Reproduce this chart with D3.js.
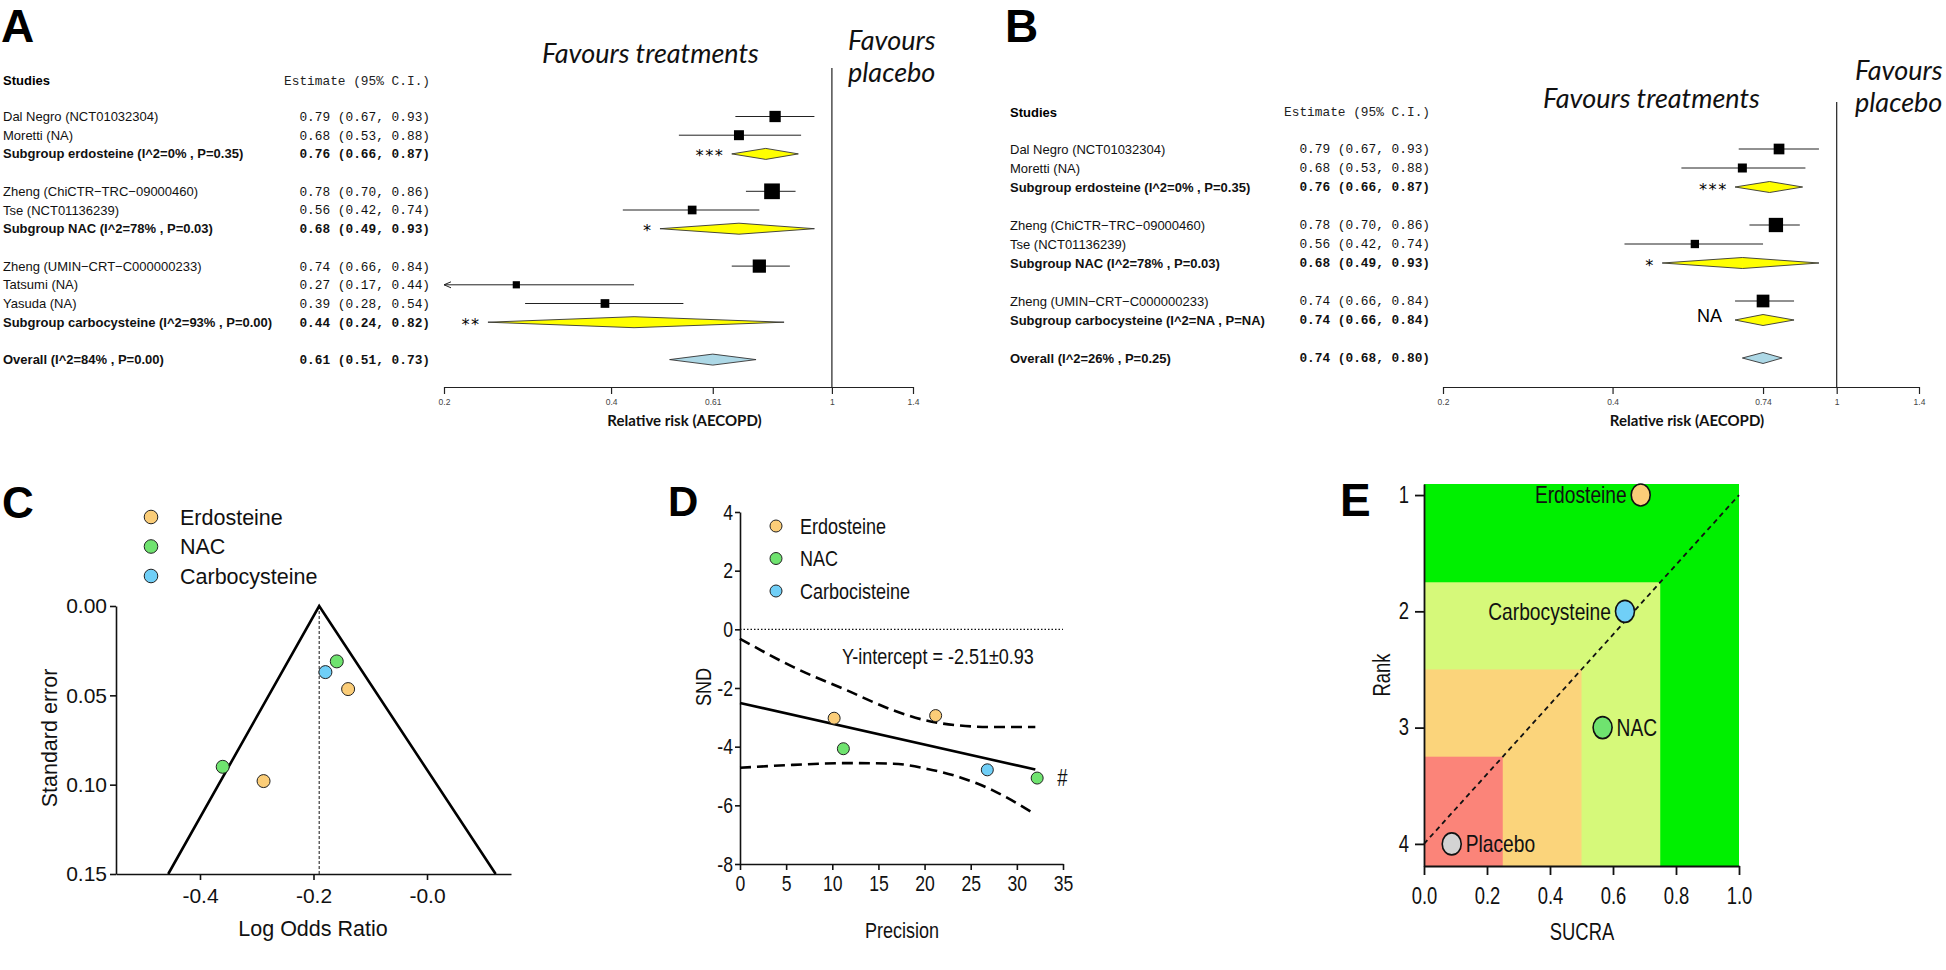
<!DOCTYPE html>
<html>
<head>
<meta charset="utf-8">
<script src="https://cdn.jsdelivr.net/npm/d3@7"></script>
<style>
  body { margin: 0; background: #fff; }
  svg { display: block; }
</style>
</head>
<body>
<div id="chart"></div>
<script>
const width = 1946;
const height = 970;

// ---------- panel A : forest plot, all studies ----------
const aLabels = [
  "Dal Negro (NCT01032304)", "Moretti (NA)", "Subgroup erdosteine (I^2=0% , P=0.35)",
  "Zheng (ChiCTR\u2212TRC\u221209000460)", "Tse (NCT01136239)", "Subgroup NAC (I^2=78% , P=0.03)",
  "Zheng (UMIN\u2212CRT\u2212C000000233)", "Tatsumi (NA)", "Yasuda (NA)",
  "Subgroup carbocysteine (I^2=93% , P=0.00)", "Overall (I^2=84% , P=0.00)"
];
const aRows = [0, 1, 2, 4, 5, 6, 8, 9, 10, 11, 13];
const aKinds = ["study", "study", "subgroup", "study", "study", "subgroup", "study", "study", "study", "subgroup", "overall"];
const aEst = [0.79, 0.68, 0.76, 0.78, 0.56, 0.68, 0.74, 0.27, 0.39, 0.44, 0.61];
const aLow = [0.67, 0.53, 0.66, 0.70, 0.42, 0.49, 0.66, 0.17, 0.28, 0.24, 0.51];
const aHigh = [0.93, 0.88, 0.87, 0.86, 0.74, 0.93, 0.84, 0.44, 0.54, 0.82, 0.73];
const aWeights = [16, 12.5, null, 31, 9.5, null, 22, 6.5, 9.5, null, null];
const aMarks = [null, null, "***", null, null, "*", null, null, null, "**", null];
const aTicks = [0.2, 0.4, 0.61, 1, 1.4];

// ---------- panel B : forest plot, sensitivity ----------
const bLabels = [
  "Dal Negro (NCT01032304)", "Moretti (NA)", "Subgroup erdosteine (I^2=0% , P=0.35)",
  "Zheng (ChiCTR\u2212TRC\u221209000460)", "Tse (NCT01136239)", "Subgroup NAC (I^2=78% , P=0.03)",
  "Zheng (UMIN\u2212CRT\u2212C000000233)", "Subgroup carbocysteine (I^2=NA , P=NA)",
  "Overall (I^2=26% , P=0.25)"
];
const bRows = [0, 1, 2, 4, 5, 6, 8, 9, 11];
const bKinds = ["study", "study", "subgroup", "study", "study", "subgroup", "study", "subgroup", "overall"];
const bEst = [0.79, 0.68, 0.76, 0.78, 0.56, 0.68, 0.74, 0.74, 0.74];
const bLow = [0.67, 0.53, 0.66, 0.70, 0.42, 0.49, 0.66, 0.66, 0.68];
const bHigh = [0.93, 0.88, 0.87, 0.86, 0.74, 0.93, 0.84, 0.84, 0.80];
const bWeights = [14.4, 10.2, null, 25.7, 8.7, null, 20.3, null, null];
const bMarks = [null, null, "***", null, null, "*", null, "NA", null];
const bTicks = [0.2, 0.4, 0.74, 1, 1.4];

// ---------- panel C : funnel plot ----------
const cDrugs = ["NAC", "Carbocysteine", "Erdosteine", "NAC", "Erdosteine"];
const cLogOR = [-0.159, -0.179, -0.139, -0.36, -0.288];
const cSE = [0.031, 0.037, 0.0465, 0.090, 0.098];
const cFunnelX = [-0.456, -0.19, 0.121];
const cFunnelY = [0.15, 0, 0.15];
const cPooled = -0.19;
const cLegend = ["Erdosteine", "NAC", "Carbocysteine"];
const cTicksX = [-0.4, -0.2, 0];
const cTickLabelsX = ["-0.4", "-0.2", "-0.0"];
const cTicksY = [0, 0.05, 0.10, 0.15];

// ---------- panel D : Egger plot ----------
const dDrugs = ["Erdosteine", "Erdosteine", "NAC", "Carbocisteine", "NAC"];
const dPrecision = [10.2, 21.2, 11.2, 26.8, 32.2];
const dSND = [-3.03, -2.94, -4.07, -4.79, -5.07];
const dFitX = [0, 32];
const dFitY = [-2.51, -4.78];
const dUpperX = [0, 5.8, 11.6, 16.6, 20.2, 23.8, 27.4, 32];
const dUpperY = [-0.32, -1.29, -2.08, -2.76, -3.11, -3.28, -3.33, -3.33];
const dLowerX = [0, 5.8, 11.6, 16.6, 20.2, 23.8, 27.4, 31.6];
const dLowerY = [-4.72, -4.62, -4.56, -4.58, -4.75, -5.04, -5.49, -6.23];
const dLegend = ["Erdosteine", "NAC", "Carbocisteine"];
const dTicksX = [0, 5, 10, 15, 20, 25, 30, 35];
const dTicksY = [-8, -6, -4, -2, 0, 2, 4];

// ---------- panel E : SUCRA ranking ----------
const eNames = ["Erdosteine", "Carbocysteine", "NAC", "Placebo"];
const eSucra = [0.688, 0.638, 0.567, 0.088];
const eRank = [1, 2, 3, 4];
const eLabelSide = ["left", "left", "right", "right"];
const eZoneSucra = [1, 0.75, 0.5, 0.25];
const eZoneRank = [0.905, 1.75, 2.5, 3.25];
const eZoneColors = ["#00f000", "#d6f97a", "#fbd47b", "#fb8479"];
const eTicksX = [0, 0.2, 0.4, 0.6, 0.8, 1.0];
const eTicksY = [1, 2, 3, 4];

const drugColor = {
  Erdosteine: "#fbcd78", NAC: "#6fe36f", Carbocysteine: "#70cff7",
  Carbocisteine: "#70cff7", Placebo: "#d3d3d3"
};

const sans = "'Liberation Sans', Arial, Helvetica, sans-serif";
const mono = "'Liberation Mono', 'Courier New', monospace";
const ital = "Lato, 'Open Sans', sans-serif";

const svg = d3.select("#chart")
  .append("svg")
  .attr("width", width)
  .attr("height", height)
  .style("font-family", sans);

// the GraphPad panels use a narrow face; squeeze the regular one
function condense(sel, f = 0.8) {
  sel.each(function () {
    const len = this.getComputedTextLength();
    d3.select(this).attr("textLength", len * f).attr("lengthAdjust", "spacingAndGlyphs");
  });
}

//---------------- forest plots ----------------
function drawForest(o) {
  const g = svg.append("g");
  const x = d3.scaleLog().domain([0.2, 1.4]).range(o.xRange);
  const rowY = d3.scaleLinear().domain([0, 1]).range([o.firstRow, o.firstRow + o.rowStep]);
  const size = d3.scaleSqrt().domain([0, 31]).range([0, 15.7]);
  const fmt = d3.format(".2f");
  const axisY = 387;

  const rows = o.labels.map((label, i) => ({
    label, row: o.rows[i], kind: o.kinds[i], est: o.est[i],
    lo: o.low[i], hi: o.high[i], w: o.weights[i], mark: o.marks[i]
  }));

  g.append("text")
    .attr("x", o.labelX).attr("y", rowY(-1.95)).attr("dy", "0.35em")
    .attr("font-size", 13).attr("font-weight", "bold")
    .text("Studies");
  g.append("text")
    .attr("x", o.estX).attr("y", rowY(-1.95)).attr("dy", "0.35em")
    .attr("text-anchor", "end").attr("font-family", mono).attr("font-size", 12.8)
    .attr("fill", "#222")
    .text("Estimate (95% C.I.)");

  g.selectAll(".lab").data(rows).enter().append("text")
    .attr("x", o.labelX).attr("y", (d) => rowY(d.row)).attr("dy", "0.35em")
    .attr("font-size", 13)
    .attr("font-weight", (d) => (d.kind === "study" ? "normal" : "bold"))
    .attr("fill", "#111")
    .text((d) => d.label);

  g.selectAll(".est").data(rows).enter().append("text")
    .attr("x", o.estX).attr("y", (d) => rowY(d.row)).attr("dy", "0.35em")
    .attr("text-anchor", "end").attr("font-family", mono).attr("font-size", 12.8)
    .attr("font-weight", (d) => (d.kind === "study" ? "normal" : "bold"))
    .attr("fill", "#111")
    .text((d) => `${fmt(d.est)} (${fmt(d.lo)}, ${fmt(d.hi)})`);

  // reference line at RR = 1
  g.append("line")
    .attr("x1", x(1)).attr("x2", x(1))
    .attr("y1", o.refTop).attr("y2", axisY)
    .attr("stroke", "#222").attr("stroke-width", 1.2);

  const studies = rows.filter((d) => d.kind === "study");
  studies.forEach((d) => {
    const y = rowY(d.row);
    const clipped = d.lo < x.domain()[0];
    const x0 = clipped ? x(x.domain()[0]) : x(d.lo);
    g.append("line")
      .attr("x1", x0).attr("x2", x(d.hi)).attr("y1", y).attr("y2", y)
      .attr("stroke", "#222").attr("stroke-width", 1);
    if (clipped) {
      g.append("path")
        .attr("d", `M${x0 + 7},${y - 3}L${x0},${y}L${x0 + 7},${y + 3}`)
        .attr("fill", "none").attr("stroke", "#222").attr("stroke-width", 1);
    }
    const s = size(d.w);
    g.append("rect")
      .attr("x", x(d.est) - s / 2).attr("y", y - s / 2)
      .attr("width", s).attr("height", s).attr("fill", "#000");
  });

  const pooled = rows.filter((d) => d.kind !== "study");
  g.selectAll(".dia").data(pooled).enter().append("path")
    .attr("d", (d) => {
      const y = rowY(d.row);
      return `M${x(d.lo)},${y}L${x(d.est)},${y - 5.5}L${x(d.hi)},${y}L${x(d.est)},${y + 5.5}Z`;
    })
    .attr("fill", (d) => (d.kind === "overall" ? "#add8e6" : "#ffff00"))
    .attr("stroke", "#333").attr("stroke-width", 0.9);

  // significance marks next to the subgroup diamonds
  rows.filter((d) => d.mark).forEach((d) => {
    const y = rowY(d.row);
    if (d.mark === "NA") {
      g.append("text")
        .attr("x", x(d.lo) - 13).attr("y", y + 1.5)
        .attr("text-anchor", "end").attr("font-size", 18)
        .text(d.mark);
    } else {
      g.append("text")
        .attr("x", x(d.lo) - 8).attr("y", y + 7.5)
        .attr("text-anchor", "end").attr("font-family", "'DejaVu Sans Mono', monospace")
        .attr("font-size", 16)
        .text(d.mark);
    }
  });

  const axis = g.append("g")
    .attr("transform", `translate(0,${axisY})`)
    .call(d3.axisBottom(x).tickValues(o.ticks).tickFormat((d) => String(d))
      .tickSize(7).tickSizeOuter(0).tickPadding(5));
  axis.select(".domain").attr("stroke", "#222").attr("stroke-width", 1.2);
  axis.selectAll(".tick line").attr("stroke", "#222").attr("stroke-width", 1.2);
  axis.selectAll("text").attr("font-size", 8.5).attr("fill", "#444").attr("font-family", sans);

  g.append("text")
    .attr("x", (o.xRange[0] + o.xRange[1]) / 2 + 6).attr("y", 426)
    .attr("text-anchor", "middle").attr("font-family", ital)
    .attr("font-weight", "bold").attr("font-size", 15).attr("fill", "#111")
    .text("Relative risk (AECOPD)");

  g.append("text")
    .attr("x", o.favT[0]).attr("y", o.favT[1])
    .attr("font-family", ital).attr("font-style", "italic").attr("font-size", 27)
    .attr("fill", "#111")
    .text("Favours treatments");
  g.append("text")
    .attr("x", o.favP[0]).attr("y", o.favP[1])
    .attr("font-family", ital).attr("font-style", "italic").attr("font-size", 27)
    .attr("fill", "#111")
    .text("Favours");
  g.append("text")
    .attr("x", o.favP[0]).attr("y", o.favP[1] + 32)
    .attr("font-family", ital).attr("font-style", "italic").attr("font-size", 27)
    .attr("fill", "#111")
    .text("placebo");

  svg.append("text")
    .attr("x", o.letterX).attr("y", 42)
    .attr("font-weight", "bold").attr("font-size", 46)
    .text(o.letter);
}

drawForest({
  letter: "A", letterX: 1,
  labels: aLabels, rows: aRows, kinds: aKinds, est: aEst, low: aLow, high: aHigh,
  weights: aWeights, marks: aMarks, ticks: aTicks,
  xRange: [444, 913], firstRow: 116.5, rowStep: 18.7,
  labelX: 3, estX: 430, refTop: 68,
  favT: [542, 63], favP: [848, 50]
});

drawForest({
  letter: "B", letterX: 1005,
  labels: bLabels, rows: bRows, kinds: bKinds, est: bEst, low: bLow, high: bHigh,
  weights: bWeights, marks: bMarks, ticks: bTicks,
  xRange: [1443, 1919], firstRow: 149, rowStep: 19,
  labelX: 1010, estX: 1430, refTop: 102,
  favT: [1543, 108], favP: [1855, 80]
});

//---------------- panel C : funnel ----------------
{
  const g = svg.append("g");
  const x = d3.scaleLinear().domain([-0.548, 0.148]).range([116, 511]);
  const y = d3.scaleLinear().domain([0, 0.15]).range([606, 874]);

  const xAxis = g.append("g").attr("transform", `translate(0,${y(0.15)})`)
    .call(d3.axisBottom(x).tickValues(cTicksX).tickFormat((d, i) => cTickLabelsX[i])
      .tickSize(6).tickSizeOuter(0).tickPadding(8));
  const yAxis = g.append("g").attr("transform", `translate(${x.range()[0]},0)`)
    .call(d3.axisLeft(y).tickValues(cTicksY).tickFormat(d3.format(".2f"))
      .tickSize(6).tickSizeOuter(0).tickPadding(3));
  [xAxis, yAxis].forEach((a) => {
    a.selectAll("path, line").attr("stroke", "#111").attr("stroke-width", 1.6);
    a.selectAll("text").attr("font-size", 21).attr("font-family", sans).attr("fill", "#111");
  });

  g.append("line")
    .attr("x1", x(cPooled)).attr("x2", x(cPooled))
    .attr("y1", y(0)).attr("y2", y(0.15))
    .attr("stroke", "#111").attr("stroke-width", 1).attr("stroke-dasharray", "3,2");

  const funnel = cFunnelX.map((v, i) => [x(v), y(cFunnelY[i])]);
  g.append("path")
    .attr("d", d3.line()(funnel))
    .attr("fill", "none").attr("stroke", "#000").attr("stroke-width", 2.6)
    .attr("stroke-linejoin", "miter");

  g.selectAll(".pt").data(cDrugs).enter().append("circle")
    .attr("cx", (d, i) => x(cLogOR[i])).attr("cy", (d, i) => y(cSE[i]))
    .attr("r", 6.5).attr("fill", (d) => drugColor[d])
    .attr("stroke", "#222").attr("stroke-width", 1);

  const leg = g.selectAll(".leg").data(cLegend).enter().append("g")
    .attr("transform", (d, i) => `translate(151,${517 + i * 29.5})`);
  leg.append("circle").attr("r", 6.8)
    .attr("fill", (d) => drugColor[d]).attr("stroke", "#222").attr("stroke-width", 1);
  leg.append("text").attr("x", 29).attr("dy", "0.35em")
    .attr("font-size", 21.5).attr("fill", "#111").text((d) => d);

  g.append("text").attr("x", 313).attr("y", 936).attr("text-anchor", "middle")
    .attr("font-size", 21.5).attr("fill", "#111").text("Log Odds Ratio");
  g.append("text").attr("transform", "translate(57,738) rotate(-90)")
    .attr("text-anchor", "middle").attr("font-size", 21.5).attr("fill", "#111")
    .text("Standard error");

  svg.append("text").attr("x", 2).attr("y", 518)
    .attr("font-weight", "bold").attr("font-size", 44).text("C");
}

//---------------- panel D : Egger regression ----------------
{
  const g = svg.append("g");
  const x = d3.scaleLinear().domain([0, 35]).range([740, 1063]);
  const y = d3.scaleLinear().domain([-8, 4]).range([864, 512]);

  const xAxis = g.append("g").attr("transform", `translate(0,${y(-8)})`)
    .call(d3.axisBottom(x).tickValues(dTicksX).tickFormat((d) => String(d))
      .tickSize(6).tickSizeOuter(0).tickPadding(5));
  const yAxis = g.append("g").attr("transform", `translate(${x(0)},0)`)
    .call(d3.axisLeft(y).tickValues(dTicksY).tickFormat((d) => String(d))
      .tickSize(5).tickSizeOuter(0).tickPadding(2));
  [xAxis, yAxis].forEach((a) => {
    a.selectAll("path, line").attr("stroke", "#111").attr("stroke-width", 1.6);
    a.selectAll("text").attr("font-size", 22).attr("fill", "#111").call(condense);
  });

  g.append("line")
    .attr("x1", x(0)).attr("x2", x(35)).attr("y1", y(0)).attr("y2", y(0))
    .attr("stroke", "#111").attr("stroke-width", 1.4).attr("stroke-dasharray", "1.5,2");

  const curve = d3.line().x((d) => x(d[0])).y((d) => y(d[1])).curve(d3.curveMonotoneX);
  [[dUpperX, dUpperY], [dLowerX, dLowerY]].forEach(([xs, ys]) => {
    g.append("path")
      .attr("d", curve(xs.map((v, i) => [v, ys[i]])))
      .attr("fill", "none").attr("stroke", "#000").attr("stroke-width", 2.6)
      .attr("stroke-dasharray", "11,6");
  });
  g.append("path")
    .attr("d", curve(dFitX.map((v, i) => [v, dFitY[i]])))
    .attr("fill", "none").attr("stroke", "#000").attr("stroke-width", 2.6);

  g.selectAll(".pt").data(dDrugs).enter().append("circle")
    .attr("cx", (d, i) => x(dPrecision[i])).attr("cy", (d, i) => y(dSND[i]))
    .attr("r", 6).attr("fill", (d) => drugColor[d])
    .attr("stroke", "#222").attr("stroke-width", 1);

  g.append("text")
    .attr("x", x(dPrecision[4]) + 20).attr("y", y(dSND[4])).attr("dy", "0.35em")
    .attr("font-size", 23).attr("fill", "#111").text("#").call(condense);

  const leg = g.selectAll(".leg").data(dLegend).enter().append("g")
    .attr("transform", (d, i) => `translate(776,${526 + i * 32.5})`);
  leg.append("circle").attr("r", 6)
    .attr("fill", (d) => drugColor[d]).attr("stroke", "#222").attr("stroke-width", 1);
  leg.append("text").attr("x", 24).attr("dy", "0.35em")
    .attr("font-size", 22.5).attr("fill", "#111").text((d) => d).call(condense);

  g.append("text").attr("x", 842).attr("y", 656).attr("dy", "0.35em")
    .attr("font-size", 22.5).attr("fill", "#111")
    .text("Y-intercept = -2.51\u00b10.93").call(condense);

  g.append("text").attr("x", 902).attr("y", 938).attr("text-anchor", "middle")
    .attr("font-size", 22.5).attr("fill", "#111").text("Precision").call(condense);
  g.append("text").attr("transform", "translate(711,687) rotate(-90)")
    .attr("text-anchor", "middle").attr("font-size", 22.5)
    .attr("fill", "#111").text("SND").call(condense);

  svg.append("text").attr("x", 668).attr("y", 516)
    .attr("font-weight", "bold").attr("font-size", 42).text("D");
}

//---------------- panel E : SUCRA ----------------
{
  const g = svg.append("g");
  const x = d3.scaleLinear().domain([0, 1]).range([1424, 1739]);
  const y = d3.scaleLinear().domain([0.905, 4.19]).range([484, 866]);

  g.selectAll(".zone").data(eZoneColors).enter().append("rect")
    .attr("x", x(0))
    .attr("y", (d, i) => y(eZoneRank[i]))
    .attr("width", (d, i) => x(eZoneSucra[i]) - x(0))
    .attr("height", (d, i) => y.range()[1] - y(eZoneRank[i]))
    .attr("fill", (d) => d);

  g.append("line")
    .attr("x1", x(0)).attr("y1", y(4)).attr("x2", x(1)).attr("y2", y(1))
    .attr("stroke", "#111").attr("stroke-width", 1.8).attr("stroke-dasharray", "5,4");

  const xAxis = g.append("g").attr("transform", `translate(0,${y.range()[1]})`)
    .call(d3.axisBottom(x).tickValues(eTicksX).tickFormat(d3.format(".1f"))
      .tickSize(9).tickSizeOuter(0).tickPadding(13));
  const yAxis = g.append("g").attr("transform", `translate(${x(0)},0)`)
    .call(d3.axisLeft(y).tickValues(eTicksY).tickFormat((d) => String(d))
      .tickSize(9).tickSizeOuter(0).tickPadding(6));
  [xAxis, yAxis].forEach((a) => {
    a.selectAll("path, line").attr("stroke", "#111").attr("stroke-width", 1.8);
    a.selectAll("text").attr("font-size", 23).attr("fill", "#111").call(condense);
  });

  const pts = g.selectAll(".pt").data(eNames).enter().append("g")
    .attr("transform", (d, i) => `translate(${x(eSucra[i])},${y(eRank[i])})`);
  pts.append("ellipse").attr("rx", 9.5).attr("ry", 11)
    .attr("fill", (d) => drugColor[d]).attr("stroke", "#111").attr("stroke-width", 1.6);
  pts.append("text")
    .attr("x", (d, i) => (eLabelSide[i] === "left" ? -14 : 14))
    .attr("dy", "0.35em")
    .attr("text-anchor", (d, i) => (eLabelSide[i] === "left" ? "end" : "start"))
    .attr("font-size", 24).attr("fill", "#111")
    .text((d) => d).call(condense);

  g.append("text").attr("x", 1582).attr("y", 940).attr("text-anchor", "middle")
    .attr("font-size", 23).attr("fill", "#111").text("SUCRA").call(condense);
  g.append("text").attr("transform", "translate(1390,675) rotate(-90)")
    .attr("text-anchor", "middle").attr("font-size", 23)
    .attr("fill", "#111").text("Rank").call(condense);

  svg.append("text").attr("x", 1340).attr("y", 516)
    .attr("font-weight", "bold").attr("font-size", 46).text("E");
}
</script>
</body>
</html>
